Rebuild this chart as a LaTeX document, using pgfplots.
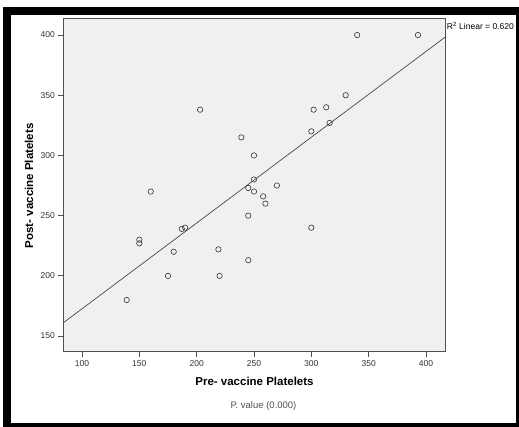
\documentclass[border=0pt]{standalone}
\usepackage{fontspec}
\setmainfont{Liberation Sans}
\usepackage{pgfplots}
\pgfplotsset{compat=1.18}
\definecolor{bgc}{HTML}{F0F0F0}
\definecolor{linec}{HTML}{505050}
\definecolor{markc}{HTML}{333333}
\definecolor{tickc}{HTML}{333333}
\begin{document}
\begin{tikzpicture}[x=1pt,y=1pt]
\fill[white] (0,0) rectangle (519,427);
\fill[black] (3,0) rectangle (519,420);
\fill[white] (11,4) rectangle (516,412);
\begin{axis}[
 at={(63.3pt,75.3pt)}, anchor=south west,
 scale only axis, width=382.4pt, height=333.4pt,
 xmin=83.7, xmax=417.2, ymin=137, ymax=413.9,
 axis background/.style={fill=bgc},
 axis line style={draw=linec, line width=0.8pt},
 xtick={100,150,...,400}, ytick={150,200,...,400},
 tick align=outside, xtick pos=bottom, ytick pos=left,
 major tick length=5pt,
 tick style={draw=linec, line width=0.8pt},
 ticklabel style={font=\fontsize{8.5}{10}\selectfont, text=tickc},
 /pgf/number format/assume math mode=true,
 clip=true,
]
\addplot[only marks, mark=o, mark size=2.7pt, mark options={draw=markc, line width=0.6pt}] coordinates {
(340,400) (393,400) (330,350) (313,340) (302,338) (316,327) (300,320)
(203,338) (239,315) (250,300) (250,280) (270,275) (245,273) (250,270)
(258,266) (260,260) (160,270) (245,250) (300,240) (187,239) (190,240)
(150,230) (150,227) (180,220) (219,222) (245,213) (175,200) (220,200)
(139,180)
};
\addplot[draw=markc, line width=0.6pt] coordinates {(83.7,161) (417.2,398.6)};
\end{axis}
\node[font=\bfseries\fontsize{11.5}{13}\selectfont, text=black] at (254.5,45.3) {Pre- vaccine Platelets};
\node[rotate=90, font=\bfseries\fontsize{11.5}{13}\selectfont, text=black] at (29,241.2) {Post- vaccine Platelets};
\node[font=\fontsize{9.5}{11}\selectfont, text=linec] at (263.5,21) {P. value (0.000)};
\node[anchor=west, inner sep=0pt, font=\fontsize{8.5}{10}\selectfont, text=black] at (446.7,401) {R\textsuperscript{2} Linear = 0.620};
\end{tikzpicture}
\end{document}
